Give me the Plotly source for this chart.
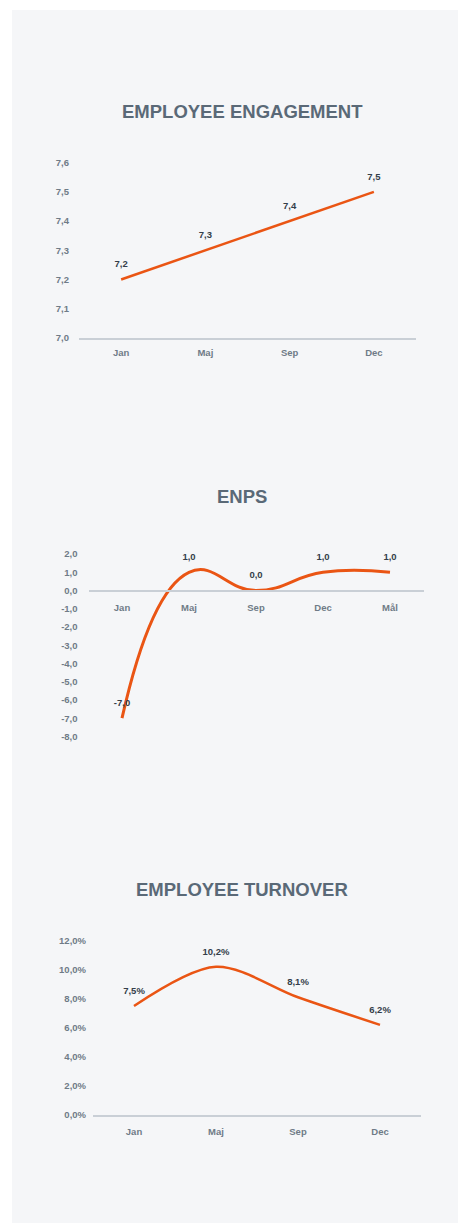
import plotly.graph_objects as go

W, H = 459, 1230

# ---- data ----
eng_cats = ["Jan", "Maj", "Sep", "Dec"]
eng_vals = [7.2, 7.3, 7.4, 7.5]
eng_ticks = [7.0, 7.1, 7.2, 7.3, 7.4, 7.5, 7.6]

enps_cats = ["Jan", "Maj", "Sep", "Dec", "Mål"]
enps_vals = [-7.0, 1.0, 0.0, 1.0, 1.0]
enps_ticks = [2, 1, 0, -1, -2, -3, -4, -5, -6, -7, -8]

turn_cats = ["Jan", "Maj", "Sep", "Dec"]
turn_vals = [0.075, 0.102, 0.081, 0.062]
turn_ticks = [0.0, 0.02, 0.04, 0.06, 0.08, 0.10, 0.12]

titles = ["EMPLOYEE ENGAGEMENT", "ENPS", "EMPLOYEE TURNOVER"]

# ---- style ----
ORANGE = "#ea5514"
TITLE_C = "#5a6977"
TICK_C = "#6f7b87"
LABEL_C = "#343e4a"
AXIS_C = "#c9cfd6"
BG = "#f5f6f8"
FONT = "Liberation Sans, Arial, sans-serif"


def px_x(p):
    return p / W


def px_y(p):
    return 1 - p / H


def fmt(v, pct=False):
    if pct:
        return f"{v*100:.1f}%".replace(".", ",")
    return f"{v:.1f}".replace(".", ",")


labelfont = dict(family=FONT, size=9.5, color=LABEL_C, weight="bold")
ghost = dict(size=14, color="rgba(0,0,0,0)")

fig = go.Figure()

fig.add_trace(go.Scatter(
    x=eng_cats, y=eng_vals, mode="lines+markers+text",
    text=[fmt(v) for v in eng_vals], textposition="top center",
    textfont=labelfont, marker=ghost,
    line=dict(color=ORANGE, width=2.5), xaxis="x", yaxis="y",
    cliponaxis=False, hoverinfo="skip"))

fig.add_trace(go.Scatter(
    x=enps_cats, y=enps_vals, mode="lines+markers+text",
    text=[fmt(v) for v in enps_vals], textposition="top center",
    textfont=labelfont, marker=ghost,
    line=dict(color=ORANGE, width=3, shape="spline", smoothing=1.3),
    xaxis="x2", yaxis="y2", cliponaxis=False, hoverinfo="skip"))

fig.add_trace(go.Scatter(
    x=turn_cats, y=turn_vals, mode="lines+markers+text",
    text=[fmt(v, True) for v in turn_vals], textposition="top center",
    textfont=labelfont, marker=ghost,
    line=dict(color=ORANGE, width=2.5, shape="spline", smoothing=0.9),
    xaxis="x3", yaxis="y3", cliponaxis=False, hoverinfo="skip"))

tickfont = dict(family=FONT, size=9.5, color=TICK_C, weight="bold")

xbase = dict(showgrid=False, zeroline=False, showline=True, linecolor=AXIS_C,
             linewidth=1.5, ticks="", tickfont=tickfont, ticklabelstandoff=5,
             fixedrange=True)
ybase = dict(showgrid=False, zeroline=False, showline=False, ticks="",
             tickfont=tickfont, fixedrange=True)

# chart 1 domain
e_top, e_bot = 158, 335
# chart 2
n_top, n_bot = 553, 737
n_zero = 590
# chart 3
t_top, t_bot = 943, 1119

fig.update_layout(
    width=W, height=H,
    margin=dict(l=0, r=0, t=0, b=0),
    paper_bgcolor="white", plot_bgcolor="rgba(0,0,0,0)",
    separators=", ",
    showlegend=False,
    font=dict(family=FONT),
    xaxis=dict(xbase, domain=[px_x(79), px_x(416)], anchor="y",
               range=[-0.5, len(eng_cats) - 0.5]),
    yaxis=dict(ybase, domain=[px_y(e_bot), px_y(e_top)], anchor="x",
               range=[7.0, 7.6], tickvals=eng_ticks,
               ticktext=[fmt(v) for v in eng_ticks],
               ticklabelstandoff=9),
    xaxis2=dict(xbase, domain=[px_x(88.5), px_x(423.5)], anchor="free",
                position=px_y(n_zero), range=[-0.5, len(enps_cats) - 0.5],
                ticklabelstandoff=8),
    yaxis2=dict(ybase, domain=[px_y(n_bot), px_y(n_top)], anchor="x2",
                range=[-8, 2], tickvals=enps_ticks,
                ticktext=[fmt(v) for v in enps_ticks],
                ticklabelstandoff=10),
    xaxis3=dict(xbase, domain=[px_x(93), px_x(421)], anchor="y3",
                range=[-0.5, len(turn_cats) - 0.5], ticklabelstandoff=7),
    yaxis3=dict(ybase, domain=[px_y(t_bot), px_y(t_top)], anchor="x3",
                range=[0, 0.12], tickvals=turn_ticks,
                ticktext=[fmt(v, True) for v in turn_ticks],
                ticklabelstandoff=6),
    shapes=[dict(type="rect", xref="paper", yref="paper", layer="below",
                 x0=px_x(12), x1=px_x(458), y0=px_y(1228), y1=px_y(4),
                 fillcolor=BG, line=dict(width=0))],
)

title_y = [106, 495, 891]
for t, yy in zip(titles, title_y):
    fig.add_annotation(text=t, xref="paper", yref="paper", x=px_x(242),
                       y=px_y(yy), showarrow=False, xanchor="center",
                       yanchor="middle",
                       font=dict(family=FONT, size=18.5, color=TITLE_C,
                                 weight="bold"))

fig.write_html("out.html")
